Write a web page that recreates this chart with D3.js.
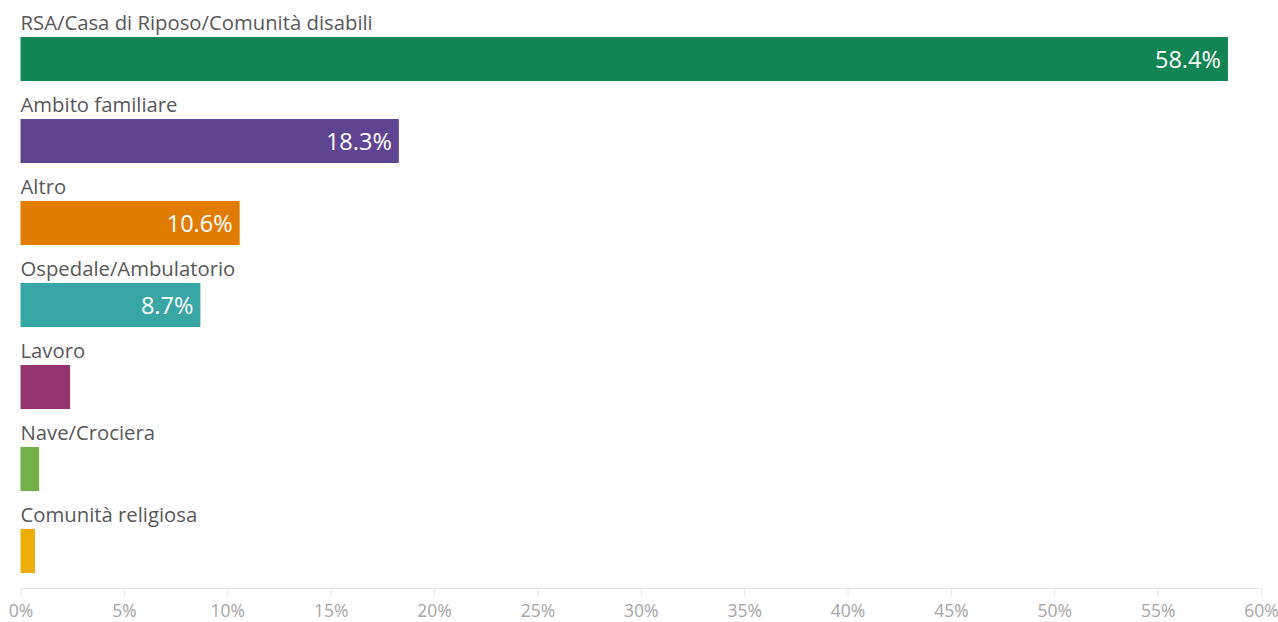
<!DOCTYPE html>
<html>
<head>
<meta charset="utf-8">
<script src="https://cdn.jsdelivr.net/npm/d3@7"></script>
<style>
  html, body { margin: 0; padding: 0; background: #fff; }
  svg { display: block; }
  text { font-family: "Open Sans", "Noto Sans", sans-serif; }
</style>
</head>
<body>
<svg id="chart" width="1278" height="622"></svg>
<script>
// Categories and shares (%)
const categories = [
  "RSA/Casa di Riposo/Comunità disabili",
  "Ambito familiare",
  "Altro",
  "Ospedale/Ambulatorio",
  "Lavoro",
  "Nave/Crociera",
  "Comunità religiosa"
];
const values = [58.4, 18.3, 10.6, 8.7, 2.4, 0.9, 0.7];
const colors = ["#128554", "#5f4591", "#e17c05", "#38a6a5", "#94346e", "#73af48", "#edad08"];
const tickValues = [0, 5, 10, 15, 20, 25, 30, 35, 40, 45, 50, 55, 60];
// Only bars wide enough show their value inside
const labelThreshold = 5;

const svg = d3.select("#chart");
const x = d3.scaleLinear().domain([0, 60]).range([20.5, 1261]);
const rowTop = 37, rowStep = 82, barH = 44;
const y = d3.scaleBand()
  .domain(categories)
  .range([rowTop, rowTop + rowStep * categories.length])
  .paddingInner(0).paddingOuter(0);

const rows = svg.append("g").selectAll("g")
  .data(categories.map((c, i) => ({ c, v: values[i], col: colors[i] })))
  .join("g");

rows.append("rect")
  .attr("x", x(0))
  .attr("y", d => y(d.c))
  .attr("width", d => x(d.v) - x(0))
  .attr("height", barH)
  .attr("fill", d => d.col);

rows.append("text")
  .attr("x", x(0))
  .attr("y", d => y(d.c) - 7)
  .attr("fill", "#585858")
  .attr("font-size", 20.3)
  .text(d => d.c);

rows.filter(d => d.v >= labelThreshold).append("text")
  .attr("x", d => x(d.v) - 7)
  .attr("y", d => y(d.c) + barH / 2 + 8.5)
  .attr("text-anchor", "end")
  .attr("fill", "#fff")
  .attr("font-size", 23.5)
  .attr("font-weight", 500)
  .text(d => d.v.toFixed(1) + "%");

// Axis
const axisY = 588;
const axis = d3.axisBottom(x)
  .tickValues(tickValues)
  .tickFormat(d => d + "%")
  .tickSize(9);

const gAxis = svg.append("g")
  .attr("transform", `translate(0,${axisY})`)
  .call(axis);
gAxis.select(".domain").attr("stroke", "#e6e6e6").attr("d", `M${x(0)},0.5H${x(60)}`);
gAxis.selectAll(".tick line").attr("stroke", "#e6e6e6");
gAxis.selectAll(".tick text")
  .attr("y", 29)
  .attr("dy", null)
  .attr("fill", "#a6a6a6")
  .attr("font-size", 17.5)
  .style("font-family", "'Open Sans', 'Noto Sans', sans-serif");
</script>
</body>
</html>
